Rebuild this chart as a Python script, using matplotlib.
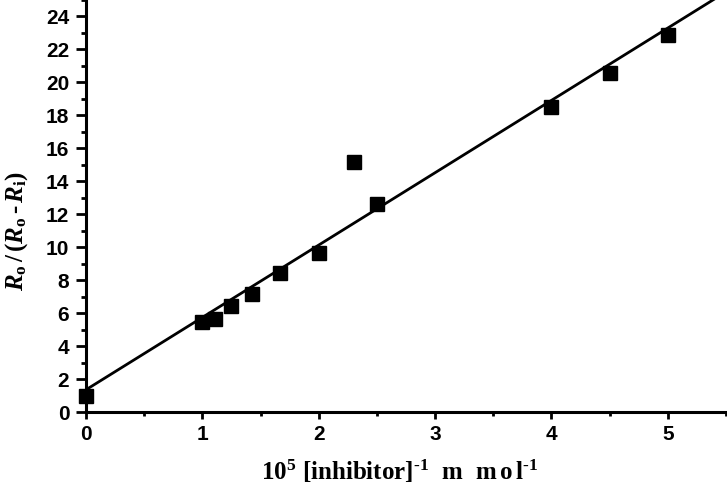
import numpy as np
import matplotlib
matplotlib.use('Agg')
import matplotlib.pyplot as plt
from matplotlib.ticker import MultipleLocator

# data
inv_conc = [0.0, 1.0, 1.11, 1.25, 1.43, 1.67, 2.0, 2.3, 2.5, 4.0, 4.5, 5.0]
ratio = [1.0, 5.45, 5.65, 6.45, 7.15, 8.45, 9.65, 15.2, 12.6, 18.5, 20.6, 22.9]

# fitted line shown in the figure
intercept = 1.35
slope = 4.39

plt.rcParams['mathtext.fontset'] = 'custom'
plt.rcParams['mathtext.rm'] = 'Liberation Serif:bold'
plt.rcParams['mathtext.it'] = 'Liberation Serif:italic:bold'
plt.rcParams['mathtext.bf'] = 'Liberation Serif:bold'

fig = plt.figure(figsize=(7.27, 4.93), dpi=100)
ax = fig.add_axes([86 / 727, 81 / 493, 640 / 727, 412 / 493])

xl = np.array([0, 6])
ax.plot(xl, intercept + slope * xl, color='black', lw=2, zorder=2)
ax.plot(inv_conc, ratio, 's', color='black', ms=10.5, zorder=3, clip_on=False)

ax.set_xlim(0, 5.5)
ax.set_ylim(0, 25)
ax.xaxis.set_major_locator(MultipleLocator(1))
ax.xaxis.set_minor_locator(MultipleLocator(0.5))
ax.yaxis.set_major_locator(MultipleLocator(2))
ax.yaxis.set_minor_locator(MultipleLocator(1))

for s in ['top', 'right']:
    ax.spines[s].set_visible(False)
for s in ['left', 'bottom']:
    ax.spines[s].set_linewidth(2.2)

ax.tick_params(axis='y', which='major', direction='out', length=7, width=2, pad=5)
ax.tick_params(axis='y', which='minor', direction='out', length=3.5, width=2)
ax.tick_params(axis='x', which='major', direction='out', length=5, width=2, pad=4)
ax.tick_params(axis='x', which='minor', direction='out', length=3, width=2)
for lab in ax.get_xticklabels() + ax.get_yticklabels():
    lab.set_fontfamily('Liberation Sans')
    lab.set_fontweight('bold')
    lab.set_fontsize(15)

ax.set_xlabel(r'$\mathrm{10^{5}\ [inhibitor]^{\text{-1}}\ \ m\ \ m\,o\,l^{\text{-1}}}$', fontsize=18)
ax.set_ylabel(r'$R_\mathrm{o}\,\mathrm{/\,(}R_\mathrm{o}\,\text{-}\,R_\mathrm{i}\mathrm{)}$', fontsize=18)
ax.xaxis.set_label_coords(0.49, -0.112)
ax.yaxis.set_label_coords(-0.088, 0.44)

fig.savefig('out.png', dpi=100)
